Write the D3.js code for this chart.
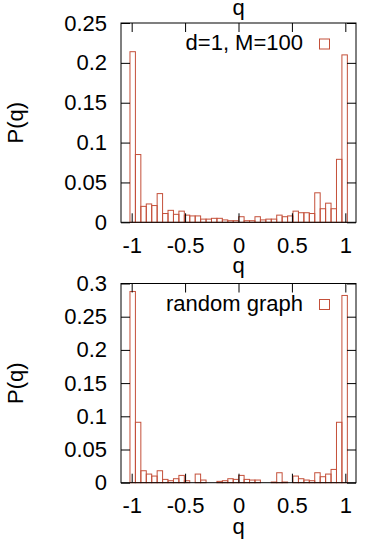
<!DOCTYPE html>
<html>
<head>
<meta charset="utf-8">
<script src="https://cdn.jsdelivr.net/npm/d3@7"></script>
<style>
  body { margin: 0; background: #fff; }
  svg { display: block; font-family: "Liberation Sans", Arial, sans-serif; }
</style>
</head>
<body>
<svg id="chart"></svg>
<script>
// 40 histogram bins of q
const bins = d3.range(40);
const binEdges = [-1.016, 1.019];

const pTop = [
  0.214, 0.085, 0.020, 0.023, 0.021, 0.036, 0.011, 0.015, 0.010, 0.014,
  0.009, 0.008, 0.008, 0.004, 0.004, 0.005, 0.005, 0.003, 0.002, 0.002,
  0.007, 0.002, 0.002, 0.007, 0.003, 0.004, 0.004, 0.009, 0.007, 0.008,
  0.014, 0.012, 0.012, 0.011, 0.037, 0.017, 0.024, 0.017, 0.079, 0.210
];
const pBottom = [
  0.288, 0.091, 0.018, 0.013, 0.010, 0.018, 0.005, 0.003, 0.006, 0.011,
  0.003, 0.000, 0.013, 0.004, 0.000, 0.000, 0.002, 0.003, 0.006, 0.005,
  0.011, 0.005, 0.004, 0.004, 0.000, 0.000, 0.001, 0.015, 0.001, 0.000,
  0.010, 0.006, 0.004, 0.003, 0.015, 0.009, 0.013, 0.020, 0.091, 0.282
];

const xTicks = [-1, -0.5, 0, 0.5, 1];
const yTicksTop = [0, 0.05, 0.1, 0.15, 0.2, 0.25];
const yTicksBottom = [0, 0.05, 0.1, 0.15, 0.2, 0.25, 0.3];
const legendTop = "d=1, M=100";
const legendBottom = "random graph";

const w = 366;
const h = 550;
const left = 121;
const right = 356;
const barColor = "#c4503a";
const fontSize = 22;

const svg = d3.select("#chart").attr("width", w).attr("height", h);

const xScale = d3.scaleLinear().domain([-1.1, 1.1]).range([left, right]);
const band = d3
  .scaleBand()
  .domain(bins)
  .range([xScale(binEdges[0]), xScale(binEdges[1])]);

const drawPanel = (values, yMax, yTicks, legend, top, bottom) => {
  const yScale = d3.scaleLinear().domain([0, yMax]).range([bottom, top]);
  const g = svg.append("g");

  g.append("rect")
    .attr("x", left)
    .attr("y", top)
    .attr("width", right - left)
    .attr("height", bottom - top)
    .attr("fill", "#fff");

  g.selectAll("rect.bar")
    .data(values)
    .enter()
    .append("rect")
    .attr("class", "bar")
    .attr("x", (d, i) => band(bins[i]))
    .attr("y", (d) => yScale(d))
    .attr("width", band.bandwidth())
    .attr("height", (d) => bottom - yScale(d))
    .attr("fill", "none")
    .attr("stroke", barColor)
    .attr("stroke-width", 1);

  const xAxis = d3
    .axisBottom(xScale)
    .tickValues(xTicks)
    .tickSize(-9)
    .tickPadding(15)
    .tickFormat((d) => String(d));
  const xAxisTop = d3.axisTop(xScale).tickValues(xTicks).tickSize(-9).tickFormat("");
  const yAxis = d3
    .axisLeft(yScale)
    .tickValues(yTicks)
    .tickSize(-9)
    .tickPadding(14)
    .tickFormat((d) => String(d));
  const yAxisRight = d3.axisRight(yScale).tickValues(yTicks).tickSize(-9).tickFormat("");

  const axes = [
    [xAxis, `translate(0,${bottom})`],
    [xAxisTop, `translate(0,${top})`],
    [yAxis, `translate(${left},0)`],
    [yAxisRight, `translate(${right},0)`],
  ];
  axes.forEach(([axis, tr]) => {
    const a = g.append("g").attr("transform", tr).call(axis);
    a.select(".domain").remove();
    a.selectAll("line").attr("stroke", "#000");
    a.selectAll("text")
      .attr("fill", "#000")
      .style("font-size", fontSize + "px")
      .style("font-family", '"Liberation Sans", Arial, sans-serif');
  });

  g.append("rect")
    .attr("x", left)
    .attr("y", top)
    .attr("width", right - left)
    .attr("height", bottom - top)
    .attr("fill", "none")
    .attr("stroke", "#000")
    .attr("stroke-width", 1);

  // key
  const keyY = top + 21;
  g.append("text")
    .attr("x", 303)
    .attr("y", keyY + 6)
    .attr("text-anchor", "end")
    .style("font-size", fontSize + "px")
    .text(legend);
  g.append("rect")
    .attr("x", 319.5)
    .attr("y", keyY - 5)
    .attr("width", 10)
    .attr("height", 10)
    .attr("fill", "none")
    .attr("stroke", barColor);

  g.append("text")
    .attr("transform", `translate(15,${(top + bottom) / 2}) rotate(-90)`)
    .attr("text-anchor", "middle")
    .attr("dy", "0.35em")
    .style("font-size", fontSize + "px")
    .text("P(q)");
};

drawPanel(pTop, 0.25, yTicksTop, legendTop, 23, 222.3);
drawPanel(pBottom, 0.3, yTicksBottom, legendBottom, 283.5, 482.7);

const qLabels = [15, 273, 534];
svg
  .selectAll("text.qlabel")
  .data(qLabels)
  .enter()
  .append("text")
  .attr("class", "qlabel")
  .attr("x", xScale(0))
  .attr("y", (d) => d)
  .attr("text-anchor", "middle")
  .style("font-size", fontSize + "px")
  .text("q");
</script>
</body>
</html>
